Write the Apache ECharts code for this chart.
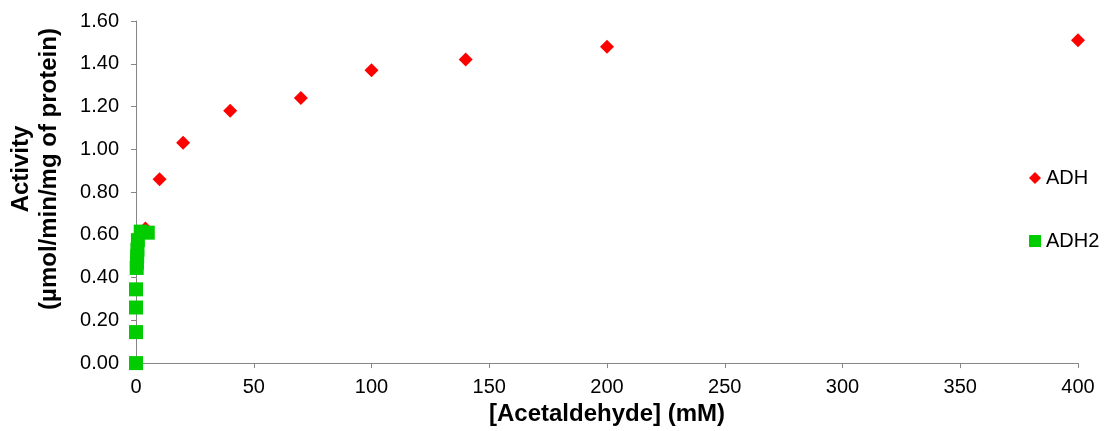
<!DOCTYPE html>
<html>
<head>
<meta charset="utf-8">
<script src="https://cdn.jsdelivr.net/npm/echarts@6/dist/echarts.min.js"></script>
<style>
html,body{margin:0;padding:0;background:#fff;}
#chart{width:1110px;height:431px;}
</style>
</head>
<body>
<div id="chart"></div>
<script>
// Data
const seriesNames = ['ADH', 'ADH2'];
const adhX = [4, 10, 20, 40, 70, 100, 140, 200, 400];
const adhY = [0.63, 0.86, 1.03, 1.18, 1.24, 1.37, 1.42, 1.48, 1.51];
const adh2X = [0, 0, 0, 0, 0.3, 0.4, 0.5, 0.6, 0.8, 2, 5];
const adh2Y = [0.00, 0.145, 0.26, 0.345, 0.445, 0.47, 0.50, 0.53, 0.575, 0.615, 0.61];
const xTitle = '[Acetaldehyde] (mM)';
const yTitleLines = ['Activity', '(µmol/min/mg of protein)'];

const font = '"Liberation Sans", Arial, sans-serif';
const chart = echarts.init(document.getElementById('chart'));
const zip = (xs, ys) => xs.map((x, i) => [x, ys[i]]);

chart.setOption({
  animation: false,
  backgroundColor: '#fff',
  grid: { left: 136, right: 32, top: 21, bottom: 65, containLabel: false },
  legend: {
    orient: 'vertical',
    left: 1029,
    top: 168,
    padding: 0,
    itemWidth: 12,
    itemHeight: 12,
    itemGap: 43,
    textStyle: { fontFamily: font, fontSize: 20, color: '#000', lineHeight: 20, padding: [0, 0, 0, 0] },
    data: [
      { name: seriesNames[0], icon: 'diamond' },
      { name: seriesNames[1], icon: 'rect' }
    ]
  },
  xAxis: {
    type: 'value', min: 0, max: 400, interval: 50,
    name: xTitle, nameLocation: 'middle', nameGap: 37,
    nameTextStyle: { fontFamily: font, fontSize: 24, fontWeight: 'bold', color: '#000' },
    axisLine: { lineStyle: { color: '#868686', width: 1 } },
    axisTick: { show: true, length: 5, lineStyle: { color: '#868686' } },
    axisLabel: { fontFamily: font, fontSize: 20, color: '#000', margin: 14 },
    splitLine: { show: false }
  },
  yAxis: {
    type: 'value', min: 0, max: 1.6, interval: 0.2,
    axisLine: { show: true, lineStyle: { color: '#868686', width: 1 } },
    axisTick: { show: true, length: 5, lineStyle: { color: '#868686' } },
    axisLabel: { fontFamily: font, fontSize: 20, color: '#000', margin: 17, formatter: v => v.toFixed(2) },
    splitLine: { show: false }
  },
  graphic: [{
    type: 'text',
    x: 35, y: 169,
    rotation: Math.PI / 2,
    style: {
      text: yTitleLines.join('\n'),
      font: 'bold 24px ' + font,
      fill: '#000',
      align: 'center',
      verticalAlign: 'middle',
      lineHeight: 28
    }
  }],
  series: [
    {
      name: seriesNames[0], type: 'scatter', symbol: 'diamond', symbolSize: 14,
      itemStyle: { color: '#ff0000', opacity: 1 },
      data: zip(adhX, adhY)
    },
    {
      name: seriesNames[1], type: 'scatter', symbol: 'rect', symbolSize: 14,
      itemStyle: { color: '#00cc00', opacity: 1 },
      data: zip(adh2X, adh2Y)
    }
  ]
});
</script>
</body>
</html>
